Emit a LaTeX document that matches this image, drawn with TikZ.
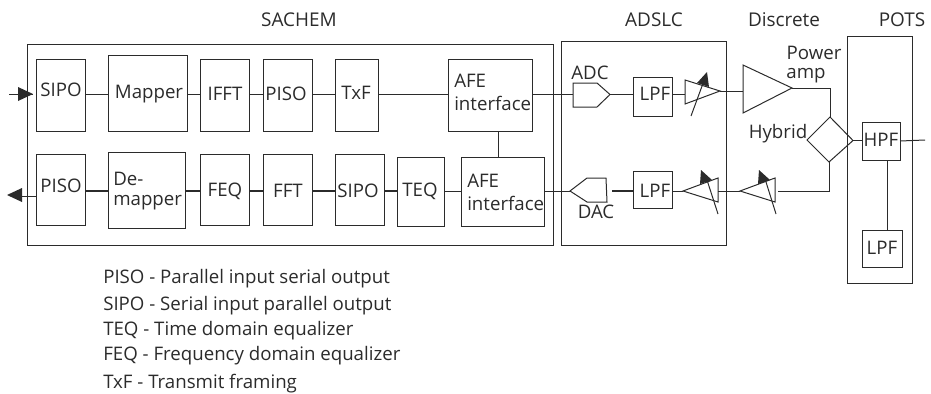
\documentclass[tikz,border=0pt]{standalone}
\usepackage{fontspec}
\setmainfont{Open Sans}
\usetikzlibrary{calc}
\definecolor{ink}{HTML}{2B2B2B}
\tikzset{
  blk/.style={draw=ink,line width=0.75pt,inner sep=0pt,outer sep=0pt},
  txt/.style={text=ink,font=\fontsize{14}{17}\selectfont,inner sep=0pt,align=left},
  head/.style={text=ink,font=\fontsize{14.2}{17}\selectfont,inner sep=0pt},
  legend/.style={text=ink,font=\fontsize{14}{15}\selectfont,inner sep=0pt,anchor=base west},
  wire/.style={draw=ink,line width=0.75pt},
  thick wire/.style={draw=ink,line width=1.3pt},
  shp/.style={draw=ink,line width=0.75pt,line join=miter},
  tip/.style={fill=ink,draw=none},
}
\begin{document}
\begin{tikzpicture}[x=0.75pt,y=-0.75pt]
\useasboundingbox (0,0) rectangle (931,393);
% row levels
\coordinate (r1) at (0,94);
\coordinate (r2) at (0,191);
% outer boxes
\node[blk,minimum width=526*0.75pt,minimum height=201*0.75pt] (sachem) at (290,144.5) {};
\node[blk,minimum width=165*0.75pt,minimum height=204*0.75pt] (adslc) at (643.5,143) {};
\node[blk,minimum width=65*0.75pt,minimum height=247*0.75pt] (pots) at (879.5,159.5) {};
% top row
\node[blk,minimum width=49*0.75pt,minimum height=72*0.75pt] (sipoa) at (60.5,95) {};
\node[blk,minimum width=79*0.75pt,minimum height=76*0.75pt] (mapper) at (147.5,93) {};
\node[blk,minimum width=49*0.75pt,minimum height=72*0.75pt] (ifft) at (224.5,95) {};
\node[blk,minimum width=49*0.75pt,minimum height=72*0.75pt] (pisoa) at (287.5,95) {};
\node[blk,minimum width=43*0.75pt,minimum height=72*0.75pt] (txf) at (356.5,95) {};
\node[blk,minimum width=84*0.75pt,minimum height=72*0.75pt] (afea) at (490,95) {};
% bottom row
\node[blk,minimum width=49*0.75pt,minimum height=71*0.75pt] (pisob) at (60.5,189.5) {};
\node[blk,minimum width=77*0.75pt,minimum height=76*0.75pt] (demap) at (146.5,190) {};
\node[blk,minimum width=49*0.75pt,minimum height=71*0.75pt] (feq) at (224.5,189.5) {};
\node[blk,minimum width=49*0.75pt,minimum height=71*0.75pt] (fft) at (287.5,189.5) {};
\node[blk,minimum width=49*0.75pt,minimum height=71*0.75pt] (sipob) at (359.5,189.5) {};
\node[blk,minimum width=47*0.75pt,minimum height=69*0.75pt] (teq) at (420.5,191.5) {};
\node[blk,minimum width=83*0.75pt,minimum height=69*0.75pt] (afeb) at (502.5,191.5) {};
% ADSLC and POTS blocks
\node[blk,minimum width=39*0.75pt,minimum height=39*0.75pt] (lpfa) at (652.5,96.5) {};
\node[blk,minimum width=39*0.75pt,minimum height=37*0.75pt] (lpfb) at (652.5,189.5) {};
\node[blk,minimum width=38*0.75pt,minimum height=38*0.75pt] (hpf) at (881,141) {};
\node[blk,minimum width=40*0.75pt,minimum height=37*0.75pt] (lpfc) at (882,248.5) {};
% converters
\draw[shp] (573,83) -- (597,83) -- (610,94.5) coordinate (adcT) -- (597,107) -- (573,107) -- cycle;
\coordinate (adcI) at (573,94.5);
\draw[shp] (570,191) coordinate (dacT) -- (587,178) -- (606,178) -- (607,202) -- (587,202) -- cycle;
% variable amplifiers
\draw[shp] (685,80) -- (720,91) coordinate (v1T) -- (685,104) -- cycle;
\coordinate (v1I) at (685,94);
\draw[wire] (691,116) -- (705,78);
\fill[tip] (697,83) -- (707,72) -- (709,87) -- cycle;
\draw[shp] (683,191) coordinate (v2T) -- (718,178) -- (718,202) -- cycle;
\coordinate (v2I) at (718,191);
\draw[wire] (718,214) -- (707,180);
\fill[tip] (700,184) -- (701,170) -- (712,180) -- cycle;
\draw[shp] (740,191) coordinate (v3T) -- (775,178) -- (775,202) -- cycle;
\coordinate (v3I) at (775,191);
\draw[wire] (776,214) -- (766,182);
\fill[tip] (758,184) -- (759,170) -- (770,180) -- cycle;
% power amp
\draw[shp] (743,65) coordinate (paI) -- (792,88) coordinate (paT) -- (743,113) -- cycle;
% hybrid
\draw[shp] (830,117) coordinate (hybT) -- (853,140.5) coordinate (hybR) -- (829,162) coordinate (hybB) -- (807,140) -- cycle;
% free ends
\coordinate (inS) at (9,94);
\coordinate (inE) at (33,94);
\coordinate (outE) at (37,196);
\coordinate (outS) at (20,196);
\coordinate (lineE) at (925,140);
\coordinate (paB) at (830,88);
\coordinate (hbB) at (829,191);
\coordinate (hbE) at (778,191);
\coordinate (dacE) at (612,191);
% connectors, top
\draw[wire] (inS) -- (inE);
\fill[tip] (18,87) -- (33,94) -- (18,101) -- cycle;
\draw[wire] (sipoa.east |- r1) -- (mapper.west |- r1);
\draw[wire] (mapper.east |- r1) -- (ifft.west |- r1);
\draw[wire] (ifft.east |- r1) -- (pisoa.west |- r1);
\draw[wire] (pisoa.east |- r1) -- (txf.west |- r1);
\draw[wire] (txf.east |- r1) -- (afea.west |- r1);
\draw[wire] (afea.east |- r1) -- (adcI |- r1);
\draw[wire] (adcT) -- (lpfa.west |- adcT);
\draw[wire] (lpfa.east |- v1I) -- (v1I);
\draw[wire] (v1T) -- (paI |- v1T);
\draw[wire] (paT) -- (paB) -- (hybT);
\draw[wire] (hybR) -- (hpf.west |- hybR);
\draw[wire] (hpf.east) -- (lineE);
\draw[wire] (hpf.south -| 887,0) -- (lpfc.north -| 887,0);
\draw[wire] (afea.south -| 498,0) -- (afeb.north -| 498,0);
% connectors, bottom
\draw[wire] (pisob.west |- outE) -- (outS);
\fill[tip] (7,195) -- (22,188) -- (22,202) -- cycle;
\draw[thick wire] (pisob.east |- r2) -- (demap.west |- r2);
\draw[thick wire] (demap.east |- r2) -- (feq.west |- r2);
\draw[thick wire] (feq.east |- r2) -- (fft.west |- r2);
\draw[thick wire] (fft.east |- r2) -- (sipob.west |- r2);
\draw[thick wire] (sipob.east |- r2) -- (teq.west |- r2);
\draw[wire] (teq.east |- r2) -- (afeb.west |- r2);
\draw[wire] (afeb.east |- r2) -- (dacT);
\draw[thick wire] (dacE) -- (lpfb.west |- r2);
\draw[wire] (lpfb.east |- r2) -- (v2T);
\draw[wire] (v2I) -- (v3T);
\draw[wire] (hbE) -- (hbB) -- (hybB);
% labels
\node[head] (lsachem) at (299,20) {SACHEM};
\node[head] (ladslc) at (654,20) {ADSLC};
\node[head] (ldisc) at (784,20) {Discrete};
\node[head] (lpots) at (902,20) {POTS};
\node[txt] (lpow) at (814,53) {Power};
\node[txt] (lamp) at (806,76) {amp};
\node[txt] (lhyb) at (778,134) {Hybrid};
\node[txt] at (61,90) {SIPO};
\node[txt] at (149,94) {Mapper};
\node[txt] at (225,94) {IFFT};
\node[txt] at (286,94) {PISO};
\node[txt] at (356,93) {TxF};
\node[txt,anchor=west] at (454,81) {AFE};
\node[txt,anchor=west] at (454,103) {interface};
\node[txt] at (61,186) {PISO};
\node[txt,anchor=west] at (113,179) {De-};
\node[txt,anchor=west] at (113,203) {mapper};
\node[txt] at (225,191) {FEQ};
\node[txt] at (288,191) {FFT};
\node[txt] at (358,191) {SIPO};
\node[txt] at (420,191) {TEQ};
\node[txt,anchor=west] at (467,181) {AFE};
\node[txt,anchor=west] at (467,203) {interface};
\node[txt] at (590,73) {ADC};
\node[txt] at (596,212) {DAC};
\node[txt] at (655,94) {LPF};
\node[txt] at (655,191) {LPF};
\node[txt] at (881,140) {HPF};
\node[txt] at (882,248) {LPF};
\node[legend] at (103,283) {PISO - Parallel input serial output};
\node[legend] at (103,310) {SIPO - Serial input parallel output};
\node[legend] at (103,335) {TEQ - Time domain equalizer};
\node[legend] at (103,360) {FEQ - Frequency domain equalizer};
\node[legend] at (103,388) {TxF - Transmit framing};
\end{tikzpicture}
\end{document}
